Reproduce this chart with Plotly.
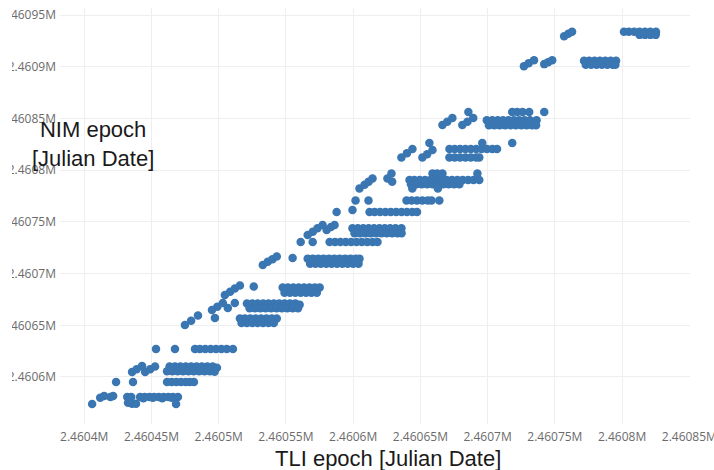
import plotly.graph_objects as go

# ---- data (Julian Dates) ----
tli_r01 = [2460405.9, 2460411.9, 2460414.8, 2460419.5, 2460421.5, 2460432.0, 2460435.0, 2460432.6, 2460435.6, 2460438.5, 2460433.5,
           2460441.6, 2460445.0, 2460448.5, 2460452.0, 2460455.5, 2460459.0, 2460462.5, 2460466.0, 2460469.7,
           2460444.0, 2460451.0, 2460458.0, 2460465.0, 2460468.3]
nim_r01 = [2460573.9, 2460579.8, 2460581.7, 2460580.7, 2460581.7, 2460580.7, 2460580.7, 2460575.0, 2460574.0, 2460574.0, 2460577.5,
           2460580.7, 2460580.7, 2460580.7, 2460580.7, 2460580.7, 2460580.7, 2460580.7, 2460580.7, 2460580.7,
           2460579.5, 2460579.8, 2460579.5, 2460580.0, 2460573.9]

tli_r02 = [2460423.7, 2460436.3, 2460461.6, 2460465.0, 2460468.5, 2460472.0, 2460475.5, 2460478.5, 2460481.6]
nim_r02 = [2460595.2, 2460595.2, 2460595.2, 2460595.2, 2460595.2, 2460595.2, 2460595.2, 2460595.2, 2460595.2]

tli_r03 = [2460435.6, 2460439.0, 2460443.0, 2460445.3, 2460449.0, 2460452.7,
           2460463.5, 2460467.5, 2460471.5, 2460475.5, 2460479.5, 2460483.5, 2460487.5, 2460491.5, 2460495.5, 2460498.7,
           2460461.6, 2460465.5, 2460469.5, 2460473.5, 2460477.5, 2460481.5, 2460485.5, 2460489.5, 2460493.5, 2460497.0]
nim_r03 = [2460604.8, 2460607.5, 2460610.5, 2460604.8, 2460607.5, 2460610.1,
           2460610.1, 2460610.1, 2460610.1, 2460610.1, 2460610.1, 2460610.1, 2460610.1, 2460610.1, 2460610.1, 2460609.0,
           2460605.5, 2460605.5, 2460605.5, 2460605.5, 2460605.5, 2460605.5, 2460605.5, 2460605.5, 2460605.5, 2460605.0]

tli_r04 = [2460453.4, 2460467.5, 2460482.4, 2460486.0, 2460490.0, 2460494.0, 2460498.0, 2460502.0, 2460506.0, 2460510.6]
nim_r04 = [2460627.1, 2460627.1, 2460627.1, 2460627.1, 2460627.1, 2460627.1, 2460627.1, 2460627.1, 2460627.1, 2460627.1]

tli_r05 = [2460474.9, 2460479.5, 2460484.6, 2460497.2,
           2460515.8, 2460519.5, 2460523.5, 2460527.5, 2460531.5, 2460535.5, 2460539.5, 2460543.2,
           2460517.0, 2460521.0, 2460525.0, 2460529.0, 2460533.0, 2460537.0, 2460541.0]
nim_r05 = [2460650.3, 2460654.5, 2460659.5, 2460657.1,
           2460656.5, 2460656.5, 2460656.5, 2460656.5, 2460656.5, 2460656.5, 2460656.5, 2460656.5,
           2460652.2, 2460652.2, 2460652.2, 2460652.2, 2460652.2, 2460652.2, 2460652.2]

tli_r06 = [2460495.0, 2460499.0, 2460503.1, 2460506.8, 2460512.0,
           2460521.0, 2460525.0, 2460529.0, 2460533.0, 2460537.0, 2460541.0, 2460545.0, 2460549.0, 2460553.0, 2460557.0, 2460560.2,
           2460523.0, 2460527.0, 2460531.0, 2460535.0, 2460539.0, 2460543.0, 2460547.0, 2460551.0, 2460555.0, 2460559.0]
nim_r06 = [2460664.8, 2460668.0, 2460671.6, 2460666.7, 2460671.6,
           2460671.0, 2460671.0, 2460671.0, 2460671.0, 2460671.0, 2460671.0, 2460671.0, 2460671.0, 2460671.0, 2460671.0, 2460670.0,
           2460666.5, 2460666.5, 2460666.5, 2460666.5, 2460666.5, 2460666.5, 2460666.5, 2460666.5, 2460666.5, 2460666.5]

tli_r07 = [2460504.6, 2460508.5, 2460512.0, 2460515.8, 2460526.1,
           2460547.6, 2460551.5, 2460555.5, 2460559.5, 2460563.5, 2460567.5, 2460571.5, 2460575.1,
           2460549.0, 2460553.0, 2460557.0, 2460561.0, 2460565.0, 2460569.0, 2460573.0]
nim_r07 = [2460679.3, 2460682.5, 2460685.5, 2460688.4, 2460687.5,
           2460686.5, 2460686.5, 2460686.5, 2460686.5, 2460686.5, 2460686.5, 2460686.5, 2460686.5,
           2460681.5, 2460681.5, 2460681.5, 2460681.5, 2460681.5, 2460681.5, 2460681.5]

tli_r08 = [2460532.8, 2460536.5, 2460540.0, 2460543.2, 2460555.0,
           2460566.2, 2460570.0, 2460574.0, 2460578.0, 2460582.0, 2460586.0, 2460590.0, 2460594.0, 2460598.0, 2460602.0, 2460604.7,
           2460568.0, 2460572.0, 2460576.0, 2460580.0, 2460584.0, 2460588.0, 2460592.0, 2460596.0, 2460600.0, 2460604.0]
nim_r08 = [2460708.3, 2460711.5, 2460714.0, 2460716.5, 2460715.1,
           2460714.5, 2460714.5, 2460714.5, 2460714.5, 2460714.5, 2460714.5, 2460714.5, 2460714.5, 2460714.5, 2460714.5, 2460714.5,
           2460709.5, 2460709.5, 2460709.5, 2460709.5, 2460709.5, 2460709.5, 2460709.5, 2460709.5, 2460709.5, 2460709.5]

tli_r09 = [2460561.0, 2460569.9, 2460582.5, 2460586.5, 2460590.5, 2460594.5, 2460598.5, 2460602.5, 2460606.5, 2460610.5, 2460614.5, 2460618.1]
nim_r09 = [2460730.5, 2460730.5, 2460730.5, 2460730.5, 2460730.5, 2460730.5, 2460730.5, 2460730.5, 2460730.5, 2460730.5, 2460730.5, 2460730.5]

tli_r10 = [2460566.2, 2460570.0, 2460573.5, 2460577.3, 2460580.3, 2460583.5, 2460586.2,
           2460599.5, 2460603.5, 2460607.5, 2460611.5, 2460615.5, 2460619.5, 2460623.5, 2460627.5, 2460631.5, 2460635.9,
           2460601.0, 2460605.0, 2460609.0, 2460613.0, 2460617.0, 2460621.0, 2460625.0, 2460629.0, 2460633.0, 2460636.0]
nim_r10 = [2460737.3, 2460740.5, 2460744.0, 2460747.0, 2460742.1, 2460745.0, 2460747.0,
           2460744.0, 2460744.0, 2460744.0, 2460744.0, 2460744.0, 2460744.0, 2460744.0, 2460744.0, 2460744.0, 2460744.0,
           2460739.0, 2460739.0, 2460739.0, 2460739.0, 2460739.0, 2460739.0, 2460739.0, 2460739.0, 2460739.0, 2460739.0]

tli_r11 = [2460587.7, 2460599.5, 2460612.2, 2460616.0, 2460620.0, 2460624.0, 2460628.0, 2460632.0, 2460636.0, 2460640.0, 2460644.0, 2460647.5]
nim_r11 = [2460759.6, 2460761.5, 2460759.6, 2460759.6, 2460759.6, 2460759.6, 2460759.6, 2460759.6, 2460759.6, 2460759.6, 2460759.6, 2460759.6]

tli_r12 = [2460601.8, 2460611.4, 2460639.7, 2460643.5, 2460647.5, 2460651.5, 2460655.5, 2460658.3, 2460664.1]
nim_r12 = [2460770.7, 2460770.7, 2460770.7, 2460770.7, 2460770.7, 2460770.7, 2460770.7, 2460770.7, 2460770.7]

tli_r13 = [2460604.7, 2460608.5, 2460611.5, 2460614.4, 2460625.5, 2460629.0, 2460628.5,
           2460641.9, 2460645.5, 2460649.5, 2460653.5, 2460657.5, 2460661.5, 2460665.5, 2460669.5, 2460673.5, 2460677.5,
           2460681.5, 2460685.5, 2460689.5, 2460693.8,
           2460643.0, 2460647.0, 2460651.0, 2460655.0, 2460659.0, 2460663.0, 2460667.0, 2460671.0, 2460675.0, 2460679.0,
           2460659.0, 2460662.5, 2460666.4, 2460644.0, 2460663.0, 2460692.4]
nim_r13 = [2460782.3, 2460786.0, 2460789.0, 2460792.0, 2460792.0, 2460789.0, 2460796.8,
           2460790.5, 2460790.5, 2460790.5, 2460790.5, 2460790.5, 2460790.5, 2460790.5, 2460790.5, 2460790.5, 2460790.5,
           2460790.5, 2460790.5, 2460790.5, 2460790.5,
           2460786.5, 2460786.5, 2460786.5, 2460786.5, 2460786.5, 2460786.5, 2460786.5, 2460786.5, 2460786.5, 2460786.5,
           2460796.8, 2460796.8, 2460796.8, 2460782.3, 2460782.3, 2460796.8]

tli_r14 = [2460635.9, 2460640.0, 2460644.1, 2460656.7, 2460651.5, 2460655.0, 2460659.0,
           2460671.6, 2460675.5, 2460679.5, 2460683.5, 2460687.5, 2460691.5, 2460695.5, 2460699.5, 2460703.5, 2460707.0,
           2460671.6, 2460675.5, 2460679.5, 2460683.5, 2460687.5, 2460691.5, 2460693.8,
           2460696.0, 2460718.3]
nim_r14 = [2460812.3, 2460816.5, 2460820.5, 2460826.3, 2460812.3, 2460815.5, 2460819.5,
           2460820.5, 2460820.5, 2460820.5, 2460820.5, 2460820.5, 2460820.5, 2460820.5, 2460820.5, 2460820.5, 2460820.5,
           2460812.3, 2460812.3, 2460812.3, 2460812.3, 2460812.3, 2460812.3, 2460812.3,
           2460826.3, 2460826.3]

tli_r15 = [2460666.4, 2460670.0, 2460673.8, 2460681.2, 2460685.0, 2460689.3, 2460685.7,
           2460699.4, 2460703.5, 2460707.5, 2460711.5, 2460715.5, 2460719.5, 2460723.5, 2460727.5, 2460731.5, 2460736.4,
           2460701.0, 2460705.0, 2460709.0, 2460713.0, 2460717.0, 2460721.0, 2460725.0, 2460729.0, 2460733.0, 2460736.0,
           2460718.3, 2460722.0, 2460726.0, 2460730.9, 2460742.1]
nim_r15 = [2460843.7, 2460847.0, 2460850.5, 2460843.7, 2460847.0, 2460850.5, 2460856.3,
           2460848.5, 2460848.5, 2460848.5, 2460848.5, 2460848.5, 2460848.5, 2460848.5, 2460848.5, 2460848.5, 2460848.5,
           2460843.5, 2460843.5, 2460843.5, 2460843.5, 2460843.5, 2460843.5, 2460843.5, 2460843.5, 2460843.5, 2460843.5,
           2460856.3, 2460856.3, 2460856.3, 2460856.3, 2460856.3]

tli_r16 = [2460727.0, 2460730.5, 2460734.5, 2460742.1, 2460745.0, 2460748.0,
           2460771.7, 2460775.5, 2460779.5, 2460783.5, 2460787.5, 2460791.5, 2460795.5,
           2460773.0, 2460777.0, 2460781.0, 2460785.0, 2460789.0, 2460793.0, 2460795.0]
nim_r16 = [2460900.7, 2460903.5, 2460906.5, 2460902.7, 2460904.5, 2460906.5,
           2460906.0, 2460906.0, 2460906.0, 2460906.0, 2460906.0, 2460906.0, 2460906.0,
           2460902.0, 2460902.0, 2460902.0, 2460902.0, 2460902.0, 2460902.0, 2460902.0]

tli_r17 = [2460756.9, 2460760.0, 2460762.8,
           2460801.4, 2460805.0, 2460809.0, 2460813.0, 2460817.0, 2460821.0, 2460825.2,
           2460813.0, 2460817.0, 2460821.0, 2460825.0]
nim_r17 = [2460929.7, 2460932.0, 2460934.1,
           2460934.0, 2460934.0, 2460934.0, 2460934.0, 2460934.0, 2460934.0, 2460934.0,
           2460931.0, 2460931.0, 2460931.0, 2460931.0]

x_tick_values = [2460400, 2460450, 2460500, 2460550, 2460600, 2460650, 2460700, 2460750, 2460800, 2460850]
y_tick_values = [2460600, 2460650, 2460700, 2460750, 2460800, 2460850, 2460900, 2460950]

tli_all = (tli_r01 + tli_r02 + tli_r03 + tli_r04 + tli_r05 + tli_r06 + tli_r07 + tli_r08 + tli_r09
           + tli_r10 + tli_r11 + tli_r12 + tli_r13 + tli_r14 + tli_r15 + tli_r16 + tli_r17)
nim_all = (nim_r01 + nim_r02 + nim_r03 + nim_r04 + nim_r05 + nim_r06 + nim_r07 + nim_r08 + nim_r09
           + nim_r10 + nim_r11 + nim_r12 + nim_r13 + nim_r14 + nim_r15 + nim_r16 + nim_r17)

fig = go.Figure()
fig.add_trace(go.Scatter(
    x=tli_all, y=nim_all, mode="markers",
    marker=dict(size=8.5, color="#3a76b1", line=dict(width=0)),
    showlegend=False,
))

tickfont = dict(family="Open Sans, Arial, sans-serif", size=12, color="#6b6b6b")
fig.update_xaxes(
    range=[2460382, 2460850.5], tickvals=x_tick_values, tickformat="~s", automargin=False,
    showgrid=True, gridcolor="#eeeeee", gridwidth=1, zeroline=False, showline=False,
    ticks="", tickfont=tickfont, ticklabeloverflow="allow", ticklabelstandoff=4,
)
fig.update_yaxes(
    range=[2460554.5, 2460957], tickvals=y_tick_values, tickformat="~s", automargin=False,
    showgrid=True, gridcolor="#eeeeee", gridwidth=1, zeroline=False, showline=False,
    ticks="", tickfont=tickfont, ticklabeloverflow="allow", ticklabelstandoff=3,
)

# the reference picture is cropped about 12 px from its left edge
fig.add_shape(type="rect", xref="paper", yref="paper",
              x0=-60 / 630, x1=-48 / 630, y0=-0.12, y1=1.02,
              fillcolor="white", line=dict(width=0), layer="above")

title_font = dict(family="Liberation Sans, Arial, sans-serif", size=22, color="#1a1a1a")
fig.add_annotation(text="TLI epoch [Julian Date]", xref="paper", yref="paper",
                   x=0.521, y=-0.083, xanchor="center", yanchor="middle",
                   showarrow=False, font=title_font)
fig.add_annotation(text="NIM epoch<br>[Julian Date]", xref="paper", yref="paper",
                   x=0.052, y=0.673, xanchor="center", yanchor="middle",
                   showarrow=False, font=title_font)

fig.update_layout(
    width=714, height=470,
    margin=dict(l=60, r=24, t=8, b=46),
    paper_bgcolor="white", plot_bgcolor="white",
)

fig.write_html("out.html")
